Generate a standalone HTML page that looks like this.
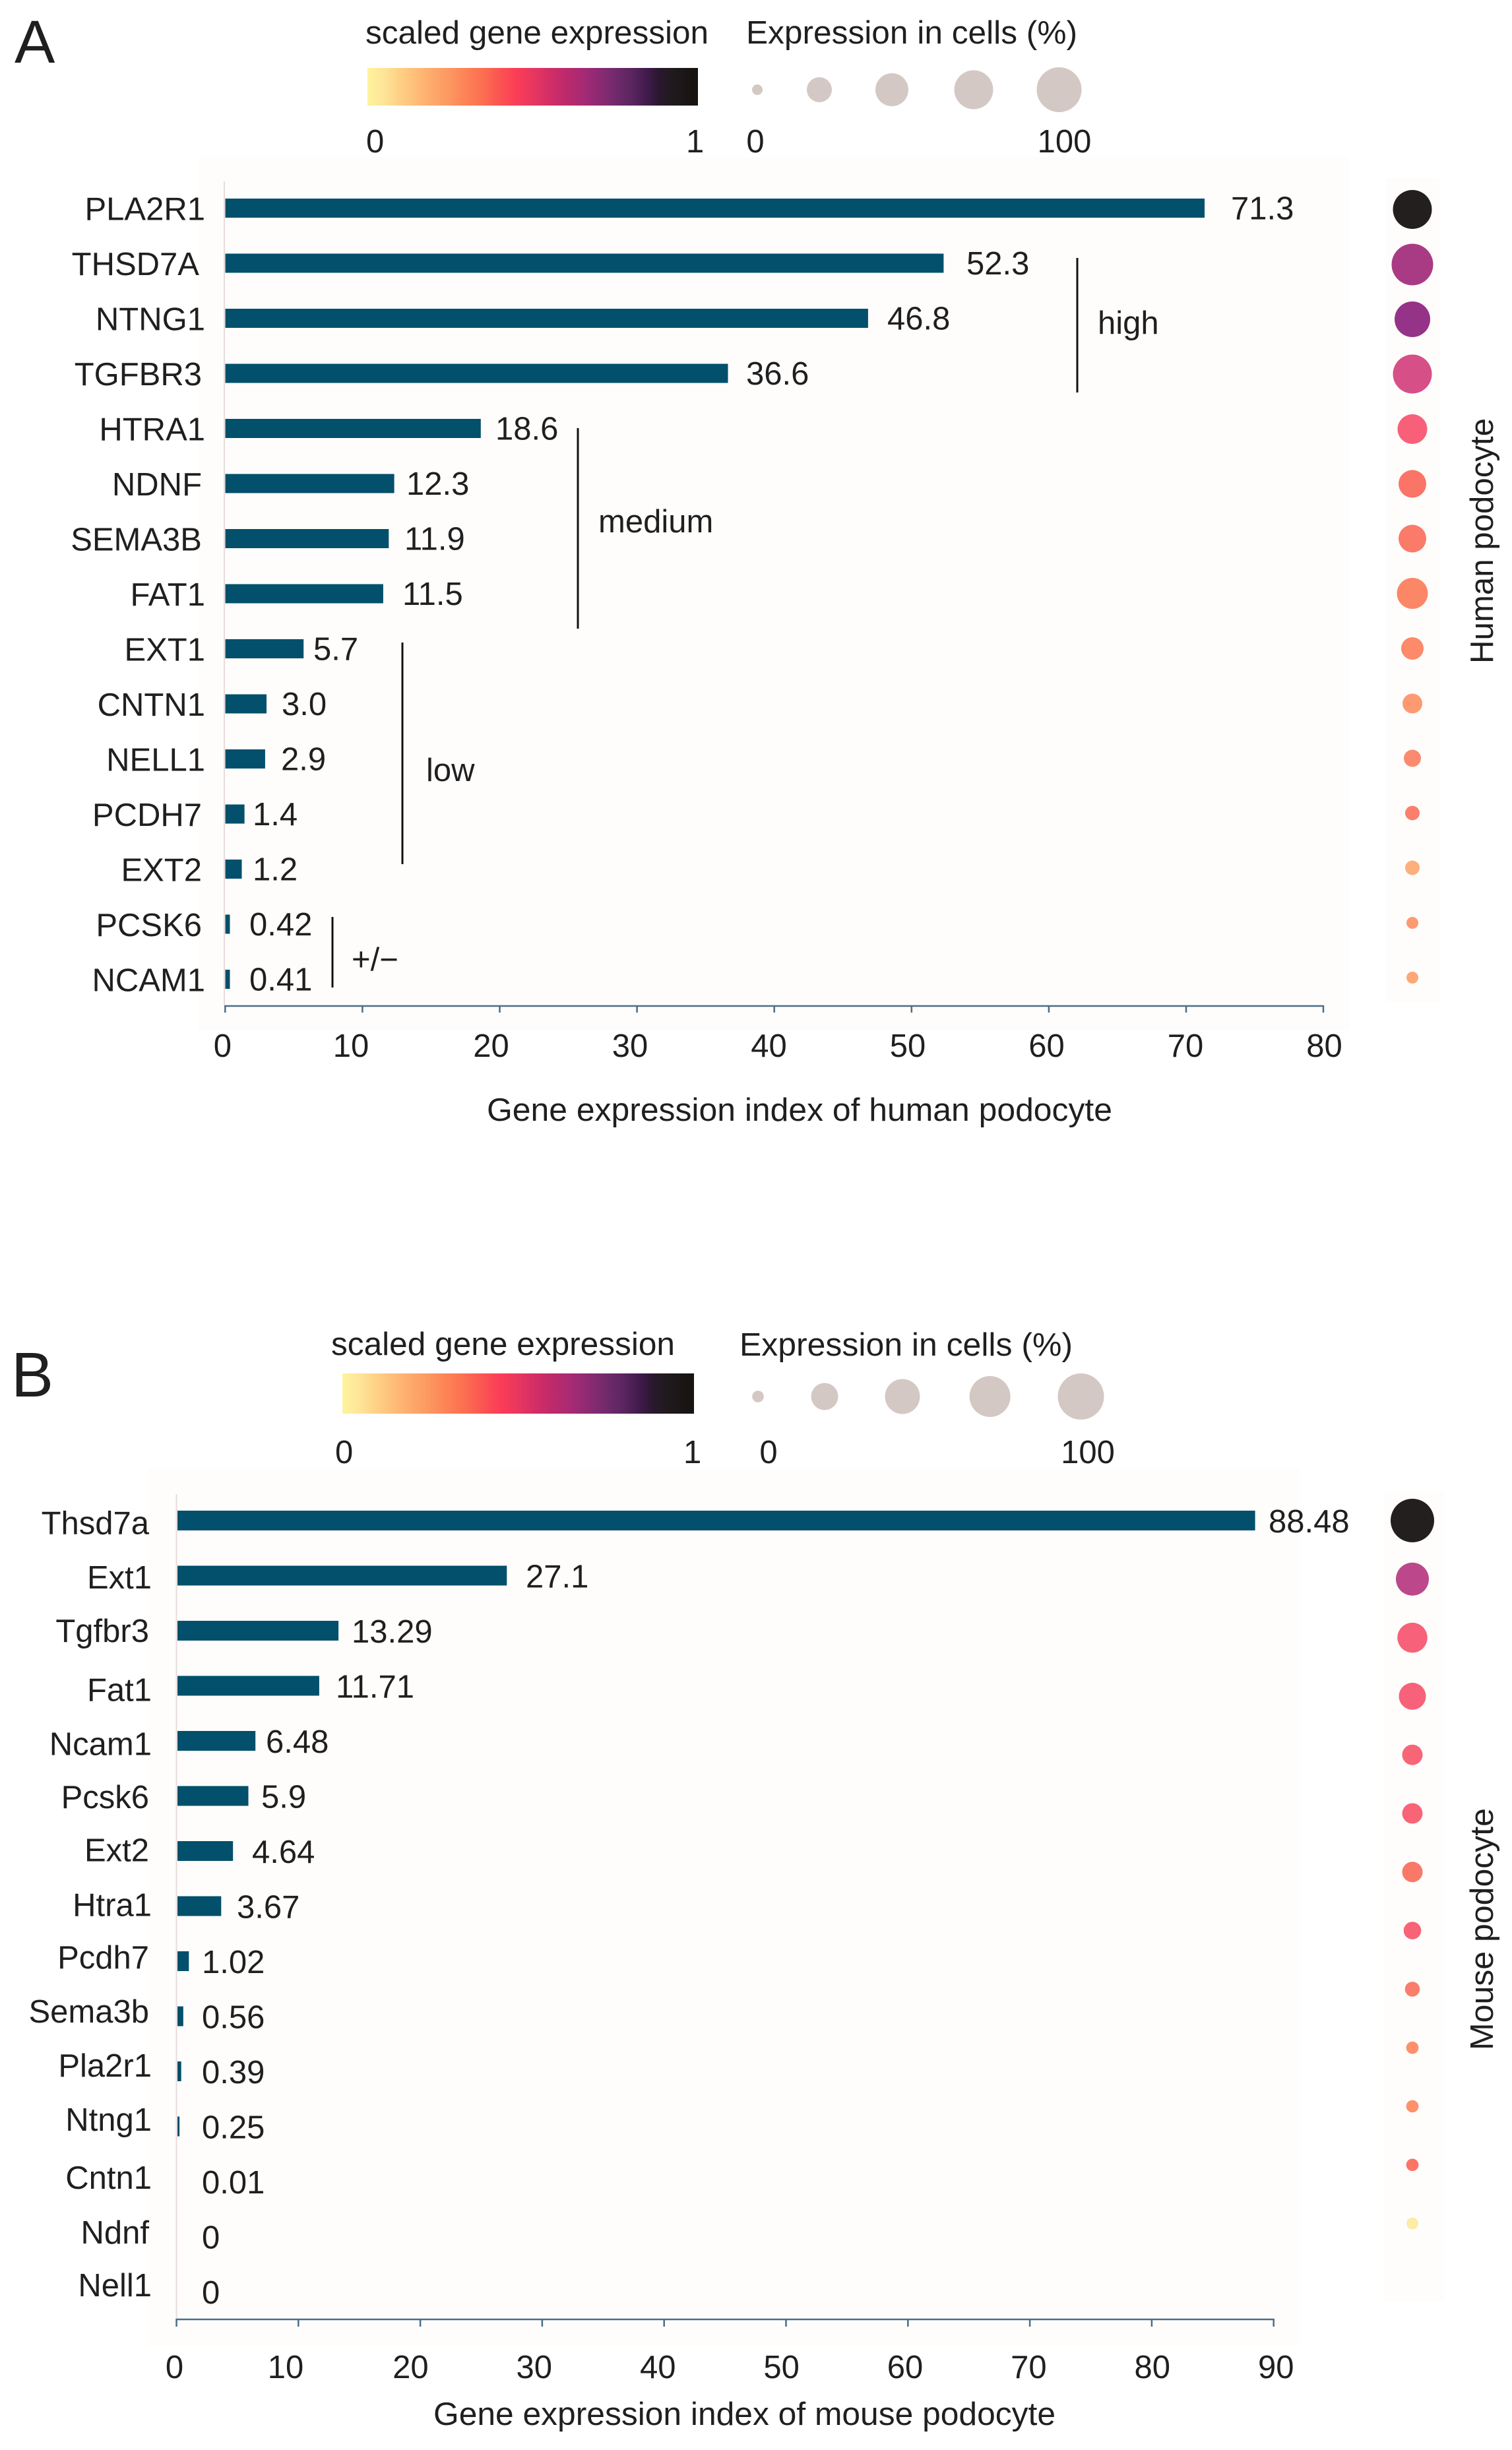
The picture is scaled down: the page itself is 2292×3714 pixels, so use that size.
<!DOCTYPE html>
<html><head><meta charset="utf-8"><style>
html,body{margin:0;padding:0;background:#fff;}
svg{display:block;}
text{font-family:"Liberation Sans",Arial,sans-serif;fill:#1f1f1f;}
</style></head><body>
<svg width="2292" height="3714" viewBox="0 0 2292 3714" xmlns="http://www.w3.org/2000/svg">
<defs>
<linearGradient id="mg" x1="0" x2="1" y1="0" y2="0">
<stop offset="0" stop-color="#fef39e"/><stop offset="0.05" stop-color="#fee497"/><stop offset="0.10" stop-color="#fecf85"/>
<stop offset="0.15" stop-color="#febc76"/><stop offset="0.20" stop-color="#fda86a"/><stop offset="0.25" stop-color="#fd9660"/>
<stop offset="0.30" stop-color="#fd8156"/><stop offset="0.35" stop-color="#fb6e50"/><stop offset="0.40" stop-color="#fb5452"/>
<stop offset="0.45" stop-color="#fb3c57"/><stop offset="0.50" stop-color="#e8375f"/><stop offset="0.55" stop-color="#d22e66"/>
<stop offset="0.60" stop-color="#bd2a6c"/><stop offset="0.65" stop-color="#a72a74"/><stop offset="0.70" stop-color="#8c2a73"/>
<stop offset="0.75" stop-color="#722a6c"/><stop offset="0.80" stop-color="#5a2560"/><stop offset="0.85" stop-color="#3e1a4a"/>
<stop offset="0.88" stop-color="#2b1830"/><stop offset="0.92" stop-color="#201a1e"/><stop offset="1" stop-color="#17130f"/>
</linearGradient>
</defs>
<rect x="0" y="0" width="2292" height="3714" fill="#ffffff"/>

<!-- ================= PANEL A ================= -->
<rect x="301" y="238" width="1745" height="1324" fill="#fefdfc"/>
<rect x="2100" y="270" width="82" height="1250" fill="#fefdfc"/>
<text x="22" y="95" font-size="92">A</text>
<text x="554" y="66" font-size="49" textLength="520" lengthAdjust="spacingAndGlyphs">scaled gene expression</text>
<text x="1131" y="66" font-size="49" textLength="502" lengthAdjust="spacingAndGlyphs">Expression in cells (%)</text>
<rect x="557" y="103" width="501" height="57" fill="url(#mg)"/>
<text x="555" y="231" font-size="49">0</text>
<text x="1040" y="231" font-size="49">1</text>
<g fill="#d4c8c4">
<circle cx="1148" cy="136" r="8"/><circle cx="1242" cy="136" r="19"/><circle cx="1352" cy="136" r="25"/>
<circle cx="1476" cy="136" r="29.5"/><circle cx="1605.5" cy="136" r="34"/>
</g>
<text x="1145" y="231" font-size="49" text-anchor="middle">0</text>
<text x="1613.5" y="231" font-size="49" text-anchor="middle">100</text>

<line x1="340" y1="275" x2="340" y2="1525" stroke="#e6dcdc" stroke-width="2"/>
<g fill="#02506b">
<rect x="341.5" y="301" width="1484.5" height="29"/>
<rect x="341.5" y="384.5" width="1088.9" height="29"/>
<rect x="341.5" y="468" width="974.4" height="29"/>
<rect x="341.5" y="551.5" width="762" height="29"/>
<rect x="341.5" y="635" width="387.3" height="29"/>
<rect x="341.5" y="718.5" width="256.1" height="29"/>
<rect x="341.5" y="802" width="247.8" height="29"/>
<rect x="341.5" y="885.5" width="239.4" height="29"/>
<rect x="341.5" y="969" width="118.7" height="29"/>
<rect x="341.5" y="1052.5" width="62.5" height="29"/>
<rect x="341.5" y="1136" width="60.4" height="29"/>
<rect x="341.5" y="1219.5" width="29.1" height="29"/>
<rect x="341.5" y="1303" width="25" height="29"/>
<rect x="341.5" y="1386.5" width="7" height="29"/>
<rect x="341.5" y="1470" width="7" height="29"/>
</g>
<g font-size="49" text-anchor="end">
<text x="311" y="333.5">PLA2R1</text>
<text x="302" y="417">THSD7A</text>
<text x="311" y="500.5">NTNG1</text>
<text x="306" y="584">TGFBR3</text>
<text x="311" y="667.5">HTRA1</text>
<text x="306" y="751">NDNF</text>
<text x="306" y="834.5">SEMA3B</text>
<text x="311" y="918">FAT1</text>
<text x="311" y="1001.5">EXT1</text>
<text x="311" y="1085">CNTN1</text>
<text x="311" y="1168.5">NELL1</text>
<text x="306" y="1252">PCDH7</text>
<text x="306" y="1335.5">EXT2</text>
<text x="306" y="1419">PCSK6</text>
<text x="311" y="1502.5">NCAM1</text>
</g>
<g font-size="49">
<text x="1866" y="332.5">71.3</text>
<text x="1465" y="416">52.3</text>
<text x="1345" y="499.5">46.8</text>
<text x="1131" y="583">36.6</text>
<text x="751" y="666.5">18.6</text>
<text x="616" y="750">12.3</text>
<text x="613" y="833.5">11.9</text>
<text x="610" y="917">11.5</text>
<text x="475" y="1000.5">5.7</text>
<text x="427" y="1084">3.0</text>
<text x="426" y="1167.5">2.9</text>
<text x="383" y="1251">1.4</text>
<text x="383" y="1334.5">1.2</text>
<text x="378" y="1418">0.42</text>
<text x="378" y="1501.5">0.41</text>
</g>
<g stroke="#111" stroke-width="3">
<line x1="1633" y1="391" x2="1633" y2="595"/>
<line x1="876" y1="649" x2="876" y2="953"/>
<line x1="610" y1="974" x2="610" y2="1310"/>
<line x1="504" y1="1390" x2="504" y2="1497"/>
</g>
<g font-size="49">
<text x="1664" y="506">high</text>
<text x="907" y="807">medium</text>
<text x="646" y="1184">low</text>
<text x="533" y="1471">+/−</text>
</g>
<g stroke="#4a6e88" stroke-width="2.5" fill="none">
<line x1="341.3" y1="1525" x2="2006" y2="1525"/>
<line x1="341.3" y1="1524" x2="341.3" y2="1535"/>
<line x1="549.4" y1="1524" x2="549.4" y2="1535"/>
<line x1="757.5" y1="1524" x2="757.5" y2="1535"/>
<line x1="965.6" y1="1524" x2="965.6" y2="1535"/>
<line x1="1173.7" y1="1524" x2="1173.7" y2="1535"/>
<line x1="1381.8" y1="1524" x2="1381.8" y2="1535"/>
<line x1="1589.9" y1="1524" x2="1589.9" y2="1535"/>
<line x1="1798" y1="1524" x2="1798" y2="1535"/>
<line x1="2006" y1="1524" x2="2006" y2="1535"/>
</g>
<g font-size="49" text-anchor="middle">
<text x="337.4" y="1602">0</text>
<text x="532" y="1602">10</text>
<text x="744.5" y="1602">20</text>
<text x="955" y="1602">30</text>
<text x="1165.5" y="1602">40</text>
<text x="1376" y="1602">50</text>
<text x="1586.5" y="1602">60</text>
<text x="1797" y="1602">70</text>
<text x="2007.5" y="1602">80</text>
</g>
<text x="738" y="1699" font-size="49" textLength="948" lengthAdjust="spacingAndGlyphs">Gene expression index of human podocyte</text>
<circle cx="2141" cy="317.5" r="29.5" fill="#231f1e"/>
<circle cx="2141" cy="401" r="31.5" fill="#a93b85"/>
<circle cx="2141" cy="484" r="27" fill="#953388"/>
<circle cx="2141" cy="567" r="29.5" fill="#d64f87"/>
<circle cx="2141" cy="650.5" r="22.5" fill="#f8607a"/>
<circle cx="2141" cy="733.5" r="21" fill="#fa7468"/>
<circle cx="2141" cy="816.5" r="21" fill="#fb7a6a"/>
<circle cx="2141" cy="899.5" r="23.5" fill="#fc8766"/>
<circle cx="2141" cy="983" r="17" fill="#fc8a6b"/>
<circle cx="2141" cy="1066.5" r="15" fill="#fd9a72"/>
<circle cx="2141" cy="1149.5" r="13" fill="#fc8a6e"/>
<circle cx="2141" cy="1232.5" r="11" fill="#fb7f6c"/>
<circle cx="2141" cy="1315.5" r="11" fill="#fdaf7c"/>
<circle cx="2141" cy="1399" r="9" fill="#fd9a72"/>
<circle cx="2141" cy="1482" r="9" fill="#fda877"/>
<text transform="translate(2263,820) rotate(-90)" font-size="49" text-anchor="middle" textLength="372" lengthAdjust="spacingAndGlyphs">Human podocyte</text>

<!-- ================= PANEL B ================= -->
<rect x="224" y="2225" width="1746" height="1331" fill="#fefdfc"/>
<rect x="2097" y="2262" width="93" height="1227" fill="#fefdfc"/>
<text x="17" y="2117" font-size="96">B</text>
<text x="502" y="2054" font-size="49" textLength="521" lengthAdjust="spacingAndGlyphs">scaled gene expression</text>
<text x="1121" y="2055" font-size="49" textLength="505" lengthAdjust="spacingAndGlyphs">Expression in cells (%)</text>
<rect x="519" y="2082" width="533" height="61" fill="url(#mg)"/>
<text x="508" y="2218" font-size="49">0</text>
<text x="1036" y="2218" font-size="49">1</text>
<g fill="#d4c8c4">
<circle cx="1149" cy="2117" r="8.8"/><circle cx="1250" cy="2117" r="20.5"/><circle cx="1368" cy="2117" r="26.5"/>
<circle cx="1500.6" cy="2117" r="31"/><circle cx="1638.5" cy="2117" r="35"/>
</g>
<text x="1165" y="2218" font-size="49" text-anchor="middle">0</text>
<text x="1649" y="2218" font-size="49" text-anchor="middle">100</text>

<line x1="267.5" y1="2265" x2="267.5" y2="3516" stroke="#e6dcdc" stroke-width="2"/>
<g fill="#02506b">
<rect x="269" y="2290" width="1633.6" height="30"/>
<rect x="269" y="2373.5" width="499.3" height="30"/>
<rect x="269" y="2457" width="244.1" height="30"/>
<rect x="269" y="2540.5" width="214.9" height="30"/>
<rect x="269" y="2624" width="118.2" height="30"/>
<rect x="269" y="2707.5" width="107.5" height="30"/>
<rect x="269" y="2791" width="84.2" height="30"/>
<rect x="269" y="2874.5" width="66.3" height="30"/>
<rect x="269" y="2958" width="17.3" height="30"/>
<rect x="269" y="3041.5" width="8.8" height="30"/>
<rect x="269" y="3125" width="5.7" height="30"/>
<rect x="269" y="3208.5" width="3.1" height="30"/>
</g>
<g font-size="49" text-anchor="end">
<text x="226" y="2325.5">Thsd7a</text>
<text x="230" y="2408">Ext1</text>
<text x="226" y="2489">Tgfbr3</text>
<text x="230" y="2578.5">Fat1</text>
<text x="230" y="2660.5">Ncam1</text>
<text x="226" y="2741">Pcsk6</text>
<text x="226" y="2821.5">Ext2</text>
<text x="230" y="2904.5">Htra1</text>
<text x="226" y="2984">Pcdh7</text>
<text x="226" y="3066">Sema3b</text>
<text x="230" y="3148">Pla2r1</text>
<text x="230" y="3230">Ntng1</text>
<text x="230" y="3318">Cntn1</text>
<text x="226" y="3401">Ndnf</text>
<text x="230" y="3481">Nell1</text>
</g>
<g font-size="49">
<text x="1923" y="2323">88.48</text>
<text x="797" y="2406.5">27.1</text>
<text x="533" y="2490">13.29</text>
<text x="509" y="2573.5">11.71</text>
<text x="403" y="2657">6.48</text>
<text x="396" y="2740.5">5.9</text>
<text x="382" y="2824">4.64</text>
<text x="359" y="2907.5">3.67</text>
<text x="306" y="2991">1.02</text>
<text x="306" y="3074.5">0.56</text>
<text x="306" y="3158">0.39</text>
<text x="306" y="3241.5">0.25</text>
<text x="306" y="3325">0.01</text>
<text x="306" y="3408.5">0</text>
<text x="306" y="3492">0</text>
</g>
<g stroke="#4a6e88" stroke-width="2.5" fill="none">
<line x1="267.5" y1="3516" x2="1931" y2="3516"/>
<line x1="267.5" y1="3515" x2="267.5" y2="3527"/>
<line x1="452.3" y1="3515" x2="452.3" y2="3527"/>
<line x1="637.1" y1="3515" x2="637.1" y2="3527"/>
<line x1="821.9" y1="3515" x2="821.9" y2="3527"/>
<line x1="1006.7" y1="3515" x2="1006.7" y2="3527"/>
<line x1="1191.5" y1="3515" x2="1191.5" y2="3527"/>
<line x1="1376.3" y1="3515" x2="1376.3" y2="3527"/>
<line x1="1561.1" y1="3515" x2="1561.1" y2="3527"/>
<line x1="1745.9" y1="3515" x2="1745.9" y2="3527"/>
<line x1="1930.7" y1="3515" x2="1930.7" y2="3527"/>
</g>
<g font-size="49" text-anchor="middle">
<text x="264.5" y="3605">0</text>
<text x="433" y="3605">10</text>
<text x="622.4" y="3605">20</text>
<text x="809.8" y="3605">30</text>
<text x="997.2" y="3605">40</text>
<text x="1184.6" y="3605">50</text>
<text x="1372" y="3605">60</text>
<text x="1559.4" y="3605">70</text>
<text x="1746.8" y="3605">80</text>
<text x="1934.2" y="3605">90</text>
</g>
<text x="657" y="3676" font-size="49" textLength="943" lengthAdjust="spacingAndGlyphs">Gene expression index of mouse podocyte</text>
<circle cx="2141" cy="2305" r="33" fill="#231f1e"/>
<circle cx="2141" cy="2393.8" r="25" fill="#bc488b"/>
<circle cx="2141" cy="2482.6" r="22.7" fill="#f7617a"/>
<circle cx="2141" cy="2571.4" r="20.5" fill="#f7627a"/>
<circle cx="2141" cy="2660.2" r="15.5" fill="#f86577"/>
<circle cx="2141" cy="2749" r="15.5" fill="#f86577"/>
<circle cx="2141" cy="2837.8" r="15.5" fill="#fa7868"/>
<circle cx="2141" cy="2926.6" r="13.3" fill="#f86376"/>
<circle cx="2141" cy="3015.4" r="11.3" fill="#fb7e6a"/>
<circle cx="2141" cy="3104.2" r="9.4" fill="#fd916c"/>
<circle cx="2141" cy="3193" r="9.4" fill="#fd916c"/>
<circle cx="2141" cy="3281.8" r="9.4" fill="#fb7566"/>
<circle cx="2141" cy="3370.6" r="9" fill="#fdeba6"/>
<text transform="translate(2263,2924.5) rotate(-90)" font-size="49" text-anchor="middle" textLength="367" lengthAdjust="spacingAndGlyphs">Mouse podocyte</text>
</svg>
</body></html>
